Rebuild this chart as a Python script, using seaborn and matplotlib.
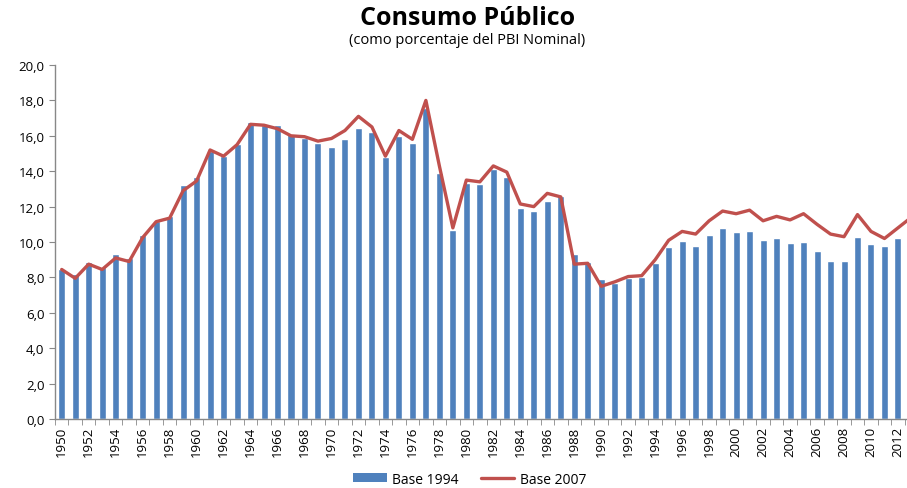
import numpy as np
import pandas as pd
import matplotlib
matplotlib.use("Agg")
import matplotlib.pyplot as plt
from matplotlib.lines import Line2D
from matplotlib.patches import Patch
import seaborn as sns

years = list(range(1950, 2014))

# Base 1994 (bars), 1950-2012
base_1994 = [8.5, 8.2, 8.9, 8.6, 9.35, 9.1, 10.4, 11.2, 11.45, 13.2,
             13.7, 15.15, 14.85, 15.55, 16.8, 16.6, 16.6, 16.1, 15.85, 15.6,
             15.35, 15.8, 16.45, 16.2, 14.8, 16.0, 15.6, 17.55, 13.9, 10.7,
             13.35, 13.3, 14.1, 13.7, 11.95, 11.75, 12.3, 12.6, 9.35, 8.9,
             7.9, 7.7, 7.95, 8.05, 8.8, 9.7, 10.05, 9.8, 10.4, 10.8,
             10.55, 10.65, 10.1, 10.25, 9.95, 10.0, 9.5, 8.95, 8.95, 10.3,
             9.9, 9.75, 10.25, np.nan]

# Base 2007 (line), 1950-2013
base_2007 = [8.45, 7.95, 8.75, 8.45, 9.1, 8.9, 10.25, 11.15, 11.35, 12.9,
             13.45, 15.2, 14.85, 15.5, 16.65, 16.6, 16.4, 16.0, 15.95, 15.7,
             15.85, 16.3, 17.1, 16.5, 14.85, 16.3, 15.8, 18.0, 14.3, 10.8,
             13.5, 13.4, 14.3, 13.95, 12.15, 12.0, 12.75, 12.55, 8.75, 8.8,
             7.5, 7.75, 8.05, 8.1, 9.0, 10.1, 10.6, 10.45, 11.2, 11.75,
             11.6, 11.8, 11.2, 11.45, 11.25, 11.6, 11.0, 10.45, 10.3, 11.55,
             10.6, 10.2, 10.8, 11.4]

df = pd.DataFrame({"year": years, "b94": base_1994, "b07": base_2007})

blue = "#4F81BD"
red = "#C0504D"

sns.set_style("white")
plt.rcParams["font.family"] = ["Open Sans", "DejaVu Sans"]
plt.rcParams["text.color"] = "black"
plt.rcParams["xtick.color"] = "black"
plt.rcParams["ytick.color"] = "black"

fig = plt.figure(figsize=(9.07, 4.89), dpi=100)
ax = fig.add_axes([0.0606, 0.141, 0.9394, 0.724])

sns.barplot(data=df.dropna(), x="year", y="b94", native_scale=True,
            width=0.52, color=blue, saturation=1, ax=ax)
sns.lineplot(data=df, x="year", y="b07", color=red, linewidth=2.4, ax=ax)

ax.set_xlim(1949.5, 2012.67)
ax.set_ylim(0, 20)
ax.set_xlabel("")
ax.set_ylabel("")

ax.set_yticks(np.arange(0, 21, 2))
ax.set_yticklabels([f"{v:.1f}".replace(".", ",") for v in np.arange(0, 21, 2)],
                   fontsize=9.5)
ax.tick_params(axis="y", length=4, color="#888888", labelcolor="black",
               direction="out", left=True)

ax.set_xticks(years[:-1:2])
ax.set_xticklabels([str(y) for y in years[:-1:2]], rotation=90, fontsize=9.5)
ax.set_xticks(np.arange(1949.5, 2013.5, 1), minor=True)
ax.tick_params(axis="x", which="major", length=0, pad=5, labelcolor="black")
ax.tick_params(axis="x", which="minor", length=4, color="#888888",
               direction="out", bottom=True)

for s in ["top", "right"]:
    ax.spines[s].set_visible(False)
for s in ["left", "bottom"]:
    ax.spines[s].set_color("#888888")
    ax.spines[s].set_linewidth(1)

fig.text(0.515, 0.962, "Consumo Público", ha="center", va="center",
         fontsize=18, fontweight="bold")
fig.text(0.515, 0.918, "(como porcentaje del PBI Nominal)", ha="center",
         va="center", fontsize=10.5)

handles = [Patch(facecolor=blue, edgecolor="none"),
           Line2D([0], [0], color=red, linewidth=2.4)]
fig.legend(handles, ["Base 1994", "Base 2007"], loc="center",
           bbox_to_anchor=(0.518, 0.018), ncol=2, frameon=False, fontsize=10,
           handlelength=2.4, handleheight=0.6, handletextpad=0.4,
           columnspacing=1.6)

fig.savefig("out.png", dpi=100)
